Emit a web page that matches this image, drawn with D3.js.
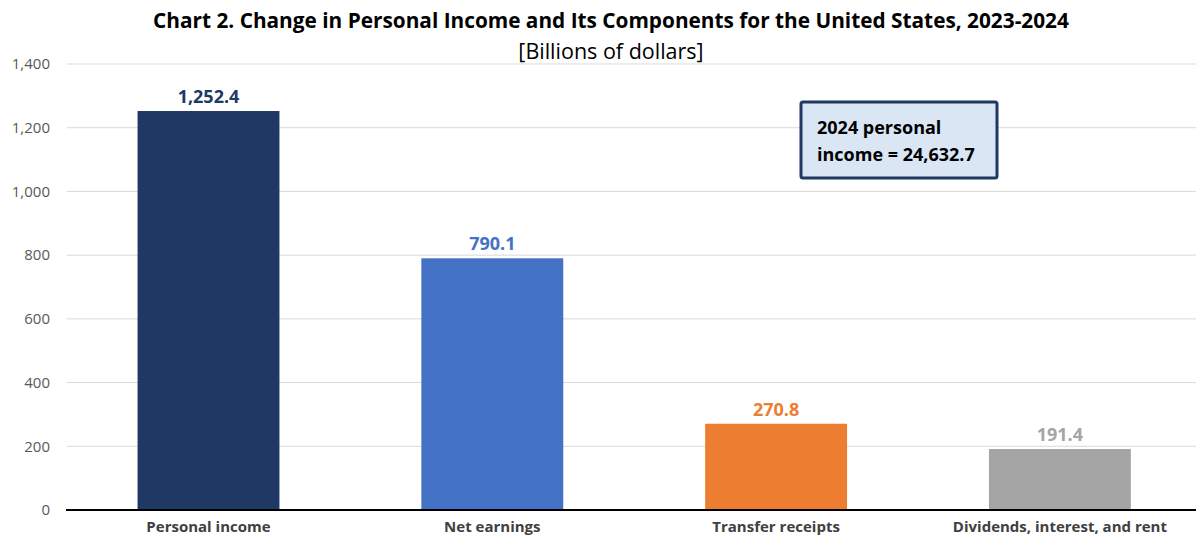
<!DOCTYPE html>
<html>
<head>
<meta charset="utf-8">
<script src="https://cdn.jsdelivr.net/npm/d3@7"></script>
<style>
  body { margin: 0; background: #fff; }
  text { font-family: "Open Sans", "Noto Sans", sans-serif; }
</style>
</head>
<body>
<div class="chart"></div>
<script>
const w = 1196;
const h = 538;

const categories = ["Personal income", "Net earnings", "Transfer receipts", "Dividends, interest, and rent"];
const values = [1252.4, 790.1, 270.8, 191.4];
const colors = ["#203864", "#4472C4", "#ED7D31", "#A5A5A5"];
const yTicks = [0, 200, 400, 600, 800, 1000, 1200, 1400];

const svg = d3.select(".chart")
  .append("svg")
  .attr("width", w)
  .attr("height", h);

const x = d3.scaleBand()
  .domain(categories)
  .range([66.6, 1201.8])
  .paddingInner(0.5)
  .paddingOuter(0.25);

const y = d3.scaleLinear()
  .domain([0, 1400])
  .range([510, 64]);

// gridlines
svg.append("g")
  .selectAll("line")
  .data(yTicks.slice(1))
  .enter().append("line")
  .attr("x1", 67)
  .attr("x2", w)
  .attr("y1", d => y(d))
  .attr("y2", d => y(d))
  .attr("stroke", "#d9d9d9")
  .attr("stroke-width", 1);

// y tick labels
svg.append("g")
  .selectAll("text")
  .data(yTicks)
  .enter().append("text")
  .attr("x", 50)
  .attr("y", d => y(d))
  .attr("dy", "0.35em")
  .attr("text-anchor", "end")
  .attr("fill", "#595959")
  .style("font-size", "15px")
  .text(d => d3.format(",")(d));

// bars
svg.append("g")
  .selectAll("rect")
  .data(categories)
  .enter().append("rect")
  .attr("x", d => x(d))
  .attr("width", x.bandwidth())
  .attr("y", (d, i) => y(values[i]))
  .attr("height", (d, i) => y(0) - y(values[i]))
  .attr("fill", (d, i) => colors[i]);

// value labels
svg.append("g")
  .selectAll("text")
  .data(categories)
  .enter().append("text")
  .attr("x", d => x(d) + x.bandwidth() / 2)
  .attr("y", (d, i) => y(values[i]) - 8)
  .attr("text-anchor", "middle")
  .attr("fill", (d, i) => colors[i])
  .style("font-size", "18px")
  .style("font-weight", "bold")
  .text((d, i) => d3.format(",.1f")(values[i]));

// zero axis
svg.append("line")
  .attr("x1", 66)
  .attr("x2", w)
  .attr("y1", y(0))
  .attr("y2", y(0))
  .attr("stroke", "#000")
  .attr("stroke-width", 2);

// category labels
svg.append("g")
  .selectAll("text")
  .data(categories)
  .enter().append("text")
  .attr("x", d => x(d) + x.bandwidth() / 2)
  .attr("y", 532)
  .attr("text-anchor", "middle")
  .attr("fill", "#404040")
  .style("font-size", "15px")
  .style("font-weight", "bold")
  .text(d => d);

// title
svg.append("text")
  .attr("x", 611)
  .attr("y", 28)
  .attr("text-anchor", "middle")
  .attr("fill", "#000")
  .style("font-size", "20.8px")
  .style("font-weight", "bold")
  .text("Chart 2. Change in Personal Income and Its Components for the United States, 2023-2024");

svg.append("text")
  .attr("x", 611)
  .attr("y", 59)
  .attr("text-anchor", "middle")
  .attr("fill", "#000")
  .style("font-size", "21.5px")
  .text("[Billions of dollars]");

// annotation box
const box = svg.append("g");
box.append("rect")
  .attr("x", 801)
  .attr("y", 102)
  .attr("width", 196)
  .attr("height", 76)
  .attr("fill", "#dae6f4")
  .attr("stroke", "#1f3864")
  .attr("stroke-width", 3)
  .attr("rx", 2);
box.append("text")
  .attr("x", 817)
  .attr("y", 134)
  .attr("fill", "#000")
  .style("font-size", "18px")
  .style("font-weight", "bold")
  .text("2024 personal");
box.append("text")
  .attr("x", 817)
  .attr("y", 161)
  .attr("fill", "#000")
  .style("font-size", "18px")
  .style("font-weight", "bold")
  .text("income = 24,632.7");
</script>
</body>
</html>
